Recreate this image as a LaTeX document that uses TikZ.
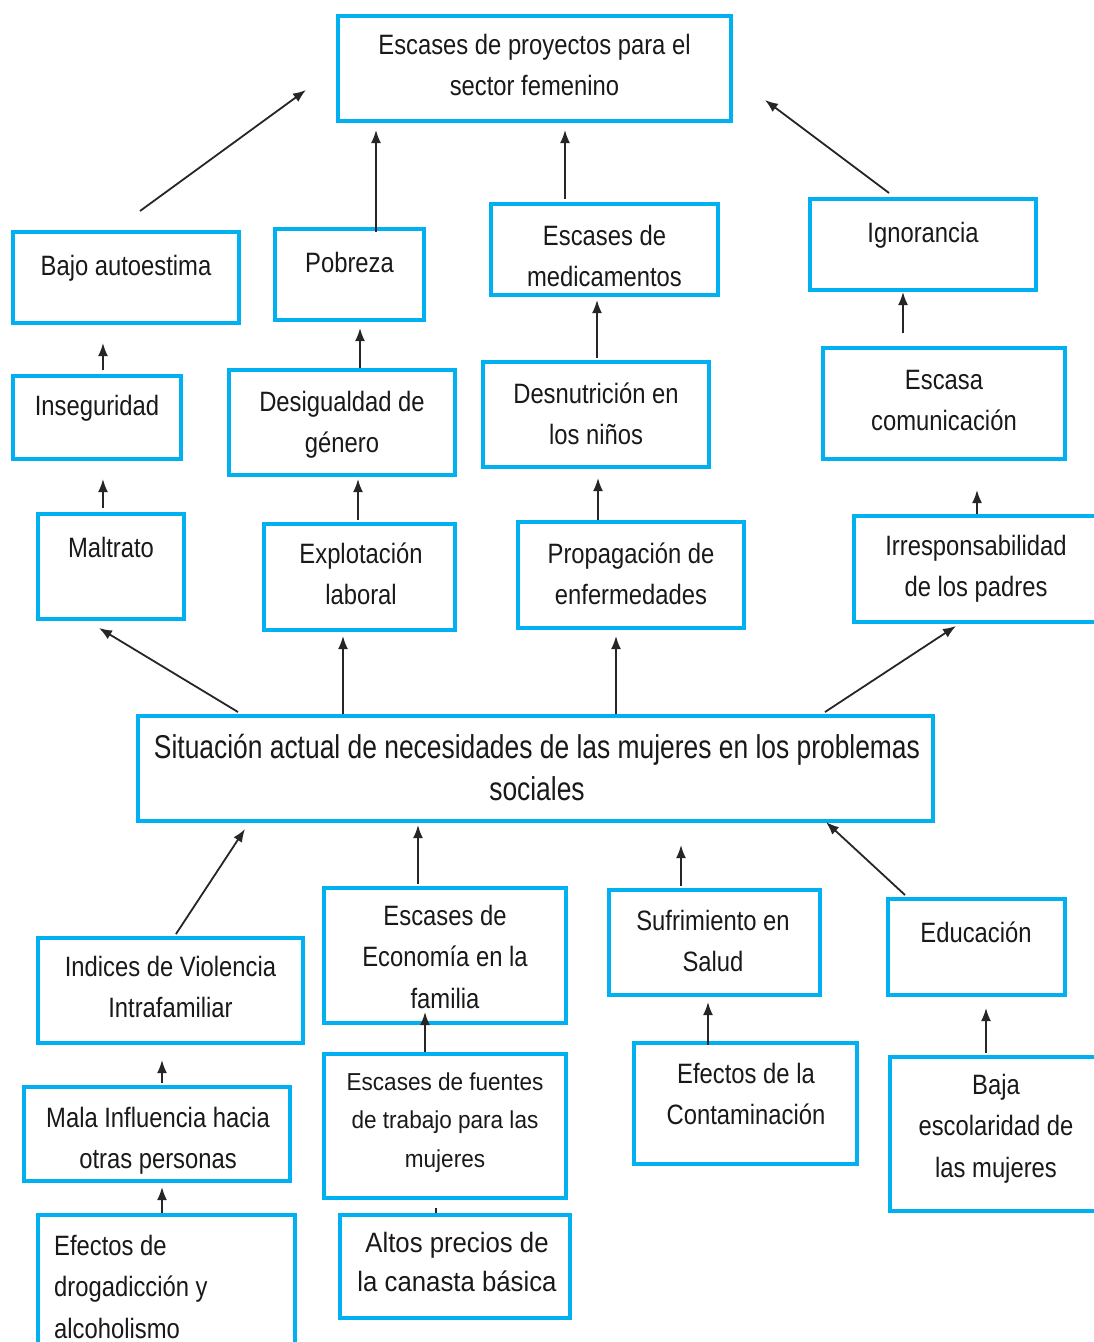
\documentclass[tikz,border=0pt]{standalone}
\usepackage{fontspec}
\setmainfont[FakeStretch=0.85]{Liberation Sans}
\newfontfamily\narrowfont[FakeStretch=0.8]{Liberation Sans}
\newfontfamily\widefont[FakeStretch=0.92]{Liberation Sans}
\usetikzlibrary{arrows.meta,calc}
\definecolor{boxblue}{RGB}{0,176,240}
\newcommand\bx[5]{\node[box,minimum width={#4-#2-4},minimum height={#5-#3-4}] (#1) at ({(#2+#4)/2},{(#3+#5)/2}) {};}
\newcommand\tx[4]{\node[txt,anchor=north] (#1) at (#2,{#3-29.05}) {\strut #4};}
\begin{document}
\begin{tikzpicture}[x=1pt,y=-1pt,
  box/.style={draw=boxblue,line width=4pt,inner sep=0pt,fill=none},
  txt/.style={align=center,inner sep=0pt,text=black!90,font=\fontsize{28}{41.5}\selectfont},
  bigtxt/.style={align=center,inner sep=0pt,text=black!90,font=\narrowfont\fontsize{33}{42}\selectfont},
  smalltxt/.style={align=center,inner sep=0pt,text=black!90,font=\widefont\fontsize{24.5}{38.5}\selectfont},
  widetxt/.style={align=center,inner sep=0pt,text=black!90,font=\widefont\fontsize{28}{39}\selectfont},
  arr/.style={line width=1.8pt,draw=black!85,-{Latex[length=13pt,width=10pt]}},
  tick/.style={line width=1.2pt,draw=black!85}]
\useasboundingbox (0,0) rectangle (1093,1342);
\fill[white] (0,0) rectangle (1093,1342);
% boxes
\bx{top}{336}{14}{733}{123}
\bx{bajo}{11}{230}{241}{325}
\bx{pob}{273}{227}{426}{322}
\bx{med}{489}{202}{720}{297}
\bx{ign}{808}{197}{1038}{292}
\bx{inse}{11}{374}{183}{461}
\bx{desi}{227}{368}{457}{477}
\bx{desn}{481}{360}{711}{469}
\bx{esca}{821}{346}{1067}{461}
\bx{malt}{36}{512}{186}{621}
\bx{expl}{262}{522}{457}{632}
\bx{prop}{516}{520}{746}{630}
\bx{irre}{852}{514}{1104}{624}
\bx{cen}{136}{714}{935}{823}
\bx{indi}{36}{936}{305}{1045}
\bx{econ}{322}{886}{568}{1025}
\bx{sufr}{607}{888}{822}{997}
\bx{educ}{886}{897}{1067}{997}
\bx{mala}{22}{1085}{292}{1183}
\bx{fuen}{322}{1052}{568}{1200}
\bx{cont}{632}{1041}{859}{1166}
\bx{baja}{888}{1055}{1104}{1213}
\bx{drog}{36}{1213}{297}{1364}
\bx{altos}{338}{1213}{572}{1320}
% texts
\tx{top-t}{534.5}{54}{Escases de proyectos para el\\sector femenino}
\tx{bajo-t}{126}{275}{Bajo autoestima}
\tx{pob-t}{349.5}{272}{Pobreza}
\tx{med-t}{604.5}{245}{Escases de\\medicamentos}
\tx{ign-t}{923}{242}{Ignorancia}
\tx{inse-t}{97}{415}{Inseguridad}
\tx{desi-t}{342}{411}{Desigualdad de\\género}
\tx{desn-t}{596}{403}{Desnutrición en\\los niños}
\tx{esca-t}{944}{389}{Escasa\\comunicación}
\tx{malt-t}{111}{557}{Maltrato}
\tx{expl-t}{361}{563}{Explotación\\laboral}
\tx{prop-t}{631}{563}{Propagación de\\enfermedades}
\tx{irre-t}{976}{555}{Irresponsabilidad\\de los padres}
\node[bigtxt,anchor=north] (cen-t) at (537,{758-29.4}) {\strut Situación actual de necesidades de las mujeres en los problemas\\sociales};
\tx{indi-t}{170.5}{976}{Indices de Violencia\\Intrafamiliar}
\tx{econ-t}{445}{925}{Escases de\\Economía en  la\\familia}
\tx{sufr-t}{713}{930}{Sufrimiento  en\\Salud}
\tx{educ-t}{976}{942}{Educación}
\tx{mala-t}{158}{1127}{Mala Influencia hacia\\otras personas}
\node[smalltxt,anchor=north] (fuen-t) at (445,{1090-26.95}) {\strut Escases de fuentes\\de trabajo para las\\mujeres};
\tx{cont-t}{746}{1083}{Efectos de la\\Contaminación}
\tx{baja-t}{996}{1094}{Baja\\escolaridad de\\las mujeres}
\node[txt,align=left,anchor=north west] (drog-t) at (54,{1255-29.05}) {\strut Efectos de\\drogadicción y\\alcoholismo};
\node[widetxt,anchor=north] (altos-t) at (457,{1252-27.3}) {\strut Altos precios de\\la canasta básica};
% free ends
\coordinate (bajoS) at ([shift={(14,-19)}]bajo.north);
\coordinate (topW) at ([shift={(-30,21.5)}]top.west);
\coordinate (ignS) at ([shift={(-34,-4)}]ign.north);
\coordinate (topE) at ([shift={(32,31.5)}]top.east);
\coordinate (sufrE) at ([shift={(145.5,22)}]cen.south);
% arrows
\draw[arr] (bajoS) -- (topW);
\draw[arr] ([shift={(26.5,5)}]pob.north) -- ([shift={(-158.5,7)}]top.south);
\draw[arr] ([shift={(-39.5,-3)}]med.north) -- ([shift={(30.5,7)}]top.south);
\draw[arr] (ignS) -- (topE);
\draw[arr] ([shift={(6,-4)}]inse.north) -- ([shift={(-23,18)}]bajo.south);
\draw[arr] ([shift={(18,0)}]desi.north) -- ([shift={(10.5,6)}]pob.south);
\draw[arr] ([shift={(1,-2)}]desn.north) -- ([shift={(-7.5,3)}]med.south);
\draw[arr] ([shift={(-41,-13)}]esca.north) -- ([shift={(-20,0)}]ign.south);
\draw[arr] ([shift={(-8,-4)}]malt.north) -- ([shift={(6,18)}]inse.south);
\draw[arr] ([shift={(-1.5,-2)}]expl.north) -- ([shift={(16,2)}]desi.south);
\draw[arr] ([shift={(-33,0)}]prop.north) -- ([shift={(2,9)}]desn.south);
\draw[arr] ([shift={(-1,0)}]irre.north) -- ([shift={(33,29)}]esca.south);
\draw[arr] ([shift={(-297.5,-2)}]cen.north) -- ([shift={(-12,7)}]malt.south);
\draw[arr] ([shift={(-192.5,0)}]cen.north) -- ([shift={(-16.5,4)}]expl.south);
\draw[arr] ([shift={(80.5,0)}]cen.north) -- ([shift={(-15,6)}]prop.south);
\draw[arr] ([shift={(289.5,-2)}]cen.north) -- ([shift={(-22,2)}]irre.south);
\draw[arr] ([shift={(5.5,-2)}]indi.north) -- ([shift={(-290.5,6)}]cen.south);
\draw[arr] ([shift={(-27,-2)}]econ.north) -- ([shift={(-117.5,2)}]cen.south);
\draw[arr] ([shift={(-33.5,-2)}]sufr.north) -- (sufrE);
\draw[arr] ([shift={(-71.5,-2)}]educ.north) -- ([shift={(290.5,-1)}]cen.south);
\draw[arr] ([shift={(5,-2)}]mala.north) -- ([shift={(-8.5,15)}]indi.south);
\draw[arr] ([shift={(-20,0)}]fuen.north) -- ([shift={(-20,-13)}]econ.south);
\draw[arr] ([shift={(-37.5,4)}]cont.north) -- ([shift={(-6.5,5)}]sufr.south);
\draw[arr] ([shift={(-10,-2)}]baja.north) -- ([shift={(9.5,11)}]educ.south);
\draw[arr] ([shift={(-4.5,0)}]drog.north) -- ([shift={(5,4)}]mala.south);
\draw[tick] ([shift={(-19,0)}]altos.north) -- ([shift={(-19,-5)}]altos.north);
\end{tikzpicture}
\end{document}
